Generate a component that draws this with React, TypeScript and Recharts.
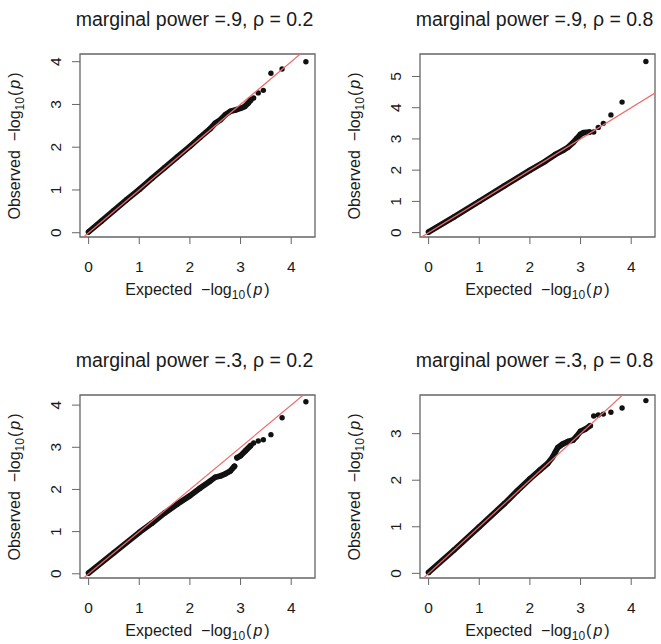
import { ScatterChart, Scatter, XAxis, YAxis, ReferenceArea } from "recharts";

// expected -log10(p) of the top few isolated points (shared by every panel)
const expectedTail = [4.29, 3.82, 3.6, 3.45, 3.35, 3.26];

// observed -log10(p) of those tail points, one list per panel
const tailPw9Rho2 = [4.0, 3.83, 3.73, 3.33, 3.27, 3.15];
const tailPw9Rho8 = [5.48, 4.18, 3.77, 3.5, 3.37, 3.22];
const tailPw3Rho2 = [4.08, 3.7, 3.3, 3.18, 3.15, 3.1];
const tailPw3Rho8 = [3.71, 3.55, 3.46, 3.42, 3.4, 3.38];

// dense part of each qq cloud as [expected, observed]
const bandPw9Rho2 = [
  [0, 0.02], [0.25, 0.27], [0.5, 0.52], [0.75, 0.77], [1.0, 1.01], [1.25, 1.27],
  [1.5, 1.52], [1.75, 1.77], [2.0, 2.02], [2.2, 2.23], [2.4, 2.43], [2.5, 2.56],
  [2.6, 2.64], [2.7, 2.76], [2.8, 2.84], [2.9, 2.87], [3.0, 2.91], [3.08, 2.95],
  [3.15, 3.03], [3.2, 3.1],
];
const bandPw9Rho8 = [
  [0, 0.02], [0.5, 0.5], [1.0, 1.0], [1.5, 1.5], [2.0, 2.0], [2.3, 2.28],
  [2.5, 2.5], [2.65, 2.63], [2.75, 2.73], [2.85, 2.88], [2.93, 3.02], [3.0, 3.15],
  [3.06, 3.2], [3.18, 3.22],
];
const bandPw3Rho2Low = [
  [0, 0.02], [0.5, 0.5], [1.0, 0.98], [1.25, 1.2], [1.5, 1.44], [1.75, 1.65],
  [2.0, 1.85], [2.2, 2.03], [2.4, 2.2], [2.5, 2.29], [2.6, 2.32], [2.7, 2.37],
  [2.8, 2.44], [2.88, 2.55],
];
const bandPw3Rho2High = [[2.93, 2.75], [3.0, 2.8], [3.1, 2.92], [3.2, 3.04]];
const bandPw3Rho8 = [
  [0, 0.02], [0.5, 0.5], [1.0, 1.0], [1.5, 1.5], [1.75, 1.77], [2.0, 2.03],
  [2.2, 2.22], [2.35, 2.36], [2.45, 2.5], [2.5, 2.6], [2.55, 2.7], [2.65, 2.78],
  [2.75, 2.83], [2.85, 2.86], [2.92, 2.94], [3.0, 3.05], [3.1, 3.1], [3.19, 3.17],
];

// y = x reference line, long enough to be clipped by every plot box
const identityLine = [{ x: -1, y: -1 }, { x: 7, y: 7 }];

const xTicks = [0, 1, 2, 3, 4];
const X_DOMAIN: [number, number] = [-0.17, 4.47];

const FONT = '"Liberation Sans", Arial, Helvetica, sans-serif';
const INK = "#1a1a1a";
const FRAME = "#666";
const RED = "#f06a6a";

const BOX_W = 235;
const BOX_H = 183;
const CHART_LEFT = 80;
const CHART_TOP = 54;

const toPoints = (pairs: number[][]) => pairs.map(([x, y]) => ({ x, y }));

const dot = (props: any) => <circle cx={props.cx} cy={props.cy} r={2.7} fill="#111" />;
const noDot = () => <g />;

const XTick = ({ x, y, payload }: any) => (
  <text x={x} y={y} dy="0.35em" textAnchor="middle" fontSize={15.5} fill={INK} fontFamily={FONT}>
    {payload.value}
  </text>
);

const YTick = ({ x, y, payload }: any) => (
  <text
    x={x}
    y={y}
    dy="0.35em"
    textAnchor="middle"
    transform={`rotate(-90 ${x} ${y})`}
    fontSize={15.5}
    fill={INK}
    fontFamily={FONT}
  >
    {payload.value}
  </text>
);

const AxisTitle = ({ word }: { word: string }) => (
  <>
    {word}
    <span style={{ marginLeft: 9 }}>−log</span>
    <sub style={{ fontSize: 12, verticalAlign: "-4px" }}>10</sub>
    <span style={{ marginLeft: 1 }}>(</span>
    <i style={{ padding: "0 2px" }}>p</i>)
  </>
);

interface PanelProps {
  left: number;
  top: number;
  power: string;
  rho: string;
  yDomain: [number, number];
  yTicks: number[];
  bands: number[][][];
  tail: number[];
}

const QQPanel = ({ left, top, power, rho, yDomain, yTicks, bands, tail }: PanelProps) => {
  const boxLeft = left + CHART_LEFT;
  const boxTop = top + CHART_TOP;
  const tailPoints = expectedTail.map((x, i) => ({ x, y: tail[i] }));

  return (
    <>
      <div
        style={{
          position: "absolute",
          left: boxLeft + BOX_W / 2 - 3,
          top: boxTop - 34,
          transform: "translate(-50%, -50%)",
          fontSize: 19.5,
          whiteSpace: "nowrap",
          color: INK,
          lineHeight: 1,
        }}
      >
        marginal power =.{power}, ρ = {rho}
      </div>

      <div style={{ position: "absolute", left, top }}>
        <ScatterChart
          width={CHART_LEFT + BOX_W + 6}
          height={CHART_TOP + BOX_H + 62}
          margin={{ top: CHART_TOP, right: 6, bottom: 0, left: 0 }}
        >
          <XAxis
            type="number"
            dataKey="x"
            domain={X_DOMAIN}
            allowDataOverflow
            ticks={xTicks}
            interval={0}
            height={62}
            axisLine={false}
            tickLine={{ stroke: FRAME }}
            tickSize={7}
            tickMargin={23}
            tick={<XTick />}
          />
          <YAxis
            type="number"
            dataKey="y"
            domain={yDomain}
            allowDataOverflow
            ticks={yTicks}
            interval={0}
            width={CHART_LEFT}
            axisLine={false}
            tickLine={{ stroke: FRAME }}
            tickSize={8}
            tickMargin={16}
            tick={<YTick />}
          />
          {bands.map((band, i) => (
            <Scatter
              key={`band-${i}`}
              data={toPoints(band)}
              fill="#111"
              line={{ stroke: "#111", strokeWidth: 5.8, strokeLinecap: "round", strokeLinejoin: "round" }}
              shape={dot}
              isAnimationActive={false}
            />
          ))}
          <Scatter data={tailPoints} fill="#111" shape={dot} isAnimationActive={false} />
          <Scatter
            data={identityLine}
            fill={RED}
            line={{ stroke: RED, strokeWidth: 1.2 }}
            shape={noDot}
            isAnimationActive={false}
          />
          <ReferenceArea
            x1={X_DOMAIN[0]}
            x2={X_DOMAIN[1]}
            y1={yDomain[0]}
            y2={yDomain[1]}
            fill="none"
            stroke={FRAME}
            strokeWidth={1.3}
            ifOverflow="visible"
          />
        </ScatterChart>
      </div>

      <div
        style={{
          position: "absolute",
          left: boxLeft + BOX_W / 2,
          top: boxTop + BOX_H + 54,
          transform: "translate(-50%, -50%)",
          fontSize: 16,
          whiteSpace: "nowrap",
          color: INK,
          lineHeight: 1,
        }}
      >
        <AxisTitle word="Expected" />
      </div>

      <div
        style={{
          position: "absolute",
          left: boxLeft - 64,
          top: boxTop + BOX_H / 2,
          transform: "translate(-50%, -50%) rotate(-90deg)",
          fontSize: 16,
          whiteSpace: "nowrap",
          color: INK,
          lineHeight: 1,
        }}
      >
        <AxisTitle word="Observed" />
      </div>
    </>
  );
};

export default function App() {
  return (
    <div
      style={{
        position: "absolute",
        left: 0,
        top: 0,
        width: 661,
        height: 644,
        overflow: "hidden",
        background: "#fff",
        fontFamily: FONT,
      }}
    >
      <QQPanel
        left={0}
        top={0}
        power="9"
        rho="0.2"
        yDomain={[-0.1, 4.18]}
        yTicks={[0, 1, 2, 3, 4]}
        bands={[bandPw9Rho2]}
        tail={tailPw9Rho2}
      />
      <QQPanel
        left={340}
        top={0}
        power="9"
        rho="0.8"
        yDomain={[-0.14, 5.72]}
        yTicks={[0, 1, 2, 3, 4, 5]}
        bands={[bandPw9Rho8]}
        tail={tailPw9Rho8}
      />
      <QQPanel
        left={0}
        top={341}
        power="3"
        rho="0.2"
        yDomain={[-0.1, 4.24]}
        yTicks={[0, 1, 2, 3, 4]}
        bands={[bandPw3Rho2Low, bandPw3Rho2High]}
        tail={tailPw3Rho2}
      />
      <QQPanel
        left={340}
        top={341}
        power="3"
        rho="0.8"
        yDomain={[-0.1, 3.83]}
        yTicks={[0, 1, 2, 3]}
        bands={[bandPw3Rho8]}
        tail={tailPw3Rho8}
      />
    </div>
  );
}
